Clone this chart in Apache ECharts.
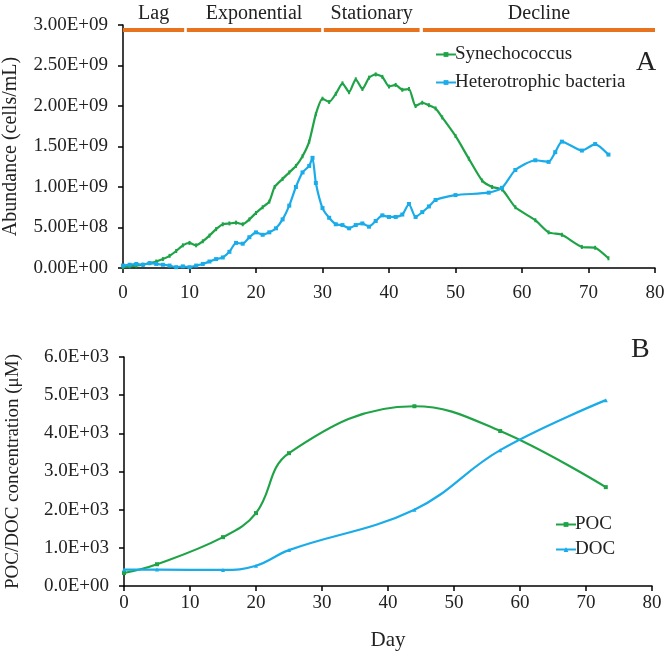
<!DOCTYPE html>
<html><head><meta charset="utf-8">
<script src="https://cdn.jsdelivr.net/npm/echarts@6/dist/echarts.min.js"></script>
<style>html,body{margin:0;padding:0;background:#fff}#c{width:666px;height:653px}</style>
</head><body><div id="c"></div>
<script>
// ---- data ----
const synDay = [0,1,2,3,4,5,6,7,8,9,10,11,12,13,14,15,16,17,18,19,20,21,22,22.8,24,25,26,27,28,29,30,31,32,33,34,35,36,37,38,39,40,41,42,43,44,45,46,47,48,50,52,54,55.5,57,59,62,64,66,69,71,73];
const synVal = [0.01,0.02,0.03,0.04,0.06,0.08,0.11,0.15,0.21,0.28,0.31,0.28,0.33,0.40,0.48,0.54,0.55,0.56,0.54,0.60,0.68,0.75,0.82,1.00,1.10,1.18,1.26,1.38,1.56,1.90,2.09,2.05,2.15,2.28,2.17,2.33,2.21,2.35,2.39,2.36,2.24,2.26,2.20,2.21,2.00,2.04,2.01,1.97,1.86,1.63,1.35,1.08,1.00,0.97,0.75,0.59,0.44,0.41,0.26,0.25,0.12];
const hetDay = [0,1,2,3,4,5,6,7,8,9,10,11,12,13,14,15,16,17,18,19,20,21,22,23,24,25,26,27,28,28.5,29,30,31,32,33,34,35,36,37,38,39,40,41,42,43,44,45,46,47,50,55,57,59,62,64,65,66,69,71,73];
const hetVal = [0.03,0.04,0.05,0.04,0.06,0.05,0.04,0.03,0.01,0.02,0.01,0.03,0.05,0.08,0.11,0.13,0.20,0.31,0.30,0.38,0.44,0.41,0.44,0.49,0.60,0.77,1.00,1.18,1.26,1.36,1.05,0.74,0.62,0.54,0.53,0.49,0.53,0.55,0.51,0.58,0.65,0.63,0.63,0.66,0.79,0.63,0.69,0.76,0.84,0.90,0.93,0.99,1.21,1.33,1.31,1.43,1.56,1.45,1.53,1.40];
const abundanceScale = 1e9;

const phaseNames = ['Lag','Exponential','Stationary','Decline'];
const phaseStart = [0, 9.6, 30.2, 45.1];
const phaseEnd   = [9.2, 29.8, 44.6, 80];
const phaseLevel = 2.94e9;

const pocDay = [0,5,15,20,25,44,57,73];
const pocVal = [340,570,1280,1910,3480,4710,4060,2590];
const docDay = [0,5,15,20,25,44,57,73];
const docVal = [430,430,420,530,940,2000,3560,4870];

const xTicks = {min:0, max:80, interval:10};
const yTopTicks = {min:0, max:3e9, interval:5e8};
const yBotTicks = {min:0, max:6000, interval:1000};

// ---- helpers ----
function sci(v, d){
  if (v === 0) return (0).toFixed(d) + 'E+00';
  const s = v.toExponential(d).split('e');
  const e = parseInt(s[1],10);
  return s[0].toUpperCase() + 'E' + (e<0?'-':'+') + String(Math.abs(e)).padStart(2,'0');
}
const zip = (a,b,k=1)=>a.map((x,i)=>[x,b[i]*k]);

const GREEN = '#1fa347', BLUE = '#1aabe9', ORANGE = '#e8731f';
const FONT = 'Liberation Serif';
const txt = {fontFamily: FONT, fontSize: 19, color: '#222'};

const axisLine = {show:true, lineStyle:{color:'#000', width:1.5}};
const axisTick = {show:true, inside:false, length:5, lineStyle:{color:'#000', width:1.5}};

const chart = echarts.init(document.getElementById('c'), null, {renderer:'canvas'});
chart.setOption({
  animation:false,
  backgroundColor:'#fff',
  grid:[
    {left:123, right:11, top:25, height:243, containLabel:false, outerBoundsMode:'none'},
    {left:124, right:14, top:357, height:229, containLabel:false, outerBoundsMode:'none'}
  ],
  legend:[
    {show:true, data:['Synechococcus','Heterotrophic bacteria'], orient:'vertical', left:430, top:40,
     itemWidth:20, itemHeight:6, itemGap:9, textStyle:{...txt, padding:[0,0,0,-6]}},
    {show:true, data:['POC','DOC'], orient:'vertical', left:550, top:510,
     itemWidth:20, itemHeight:6, itemGap:6, textStyle:{...txt, padding:[0,0,0,-6]}}
  ],
  title:[
    {text:'A', left:631, top:44, textStyle:{fontFamily:FONT, fontSize:28, fontWeight:'normal', color:'#222'}},
    {text:'B', left:626, top:331, textStyle:{fontFamily:FONT, fontSize:28, fontWeight:'normal', color:'#222'}}
  ],
  xAxis:[
    {gridIndex:0, type:'value', ...xTicks, axisLine, axisTick, splitLine:{show:false},
     axisLabel:{...txt, margin:16}},
    {gridIndex:1, type:'value', ...xTicks, axisLine, axisTick, splitLine:{show:false},
     axisLabel:{...txt, margin:8}, name:'Day', nameLocation:'middle', nameGap:44,
     nameTextStyle:{fontFamily:FONT, fontSize:21, color:'#222'}}
  ],
  yAxis:[
    {gridIndex:0, type:'value', ...yTopTicks, axisLine, axisTick, splitLine:{show:false},
     axisLabel:{...txt, margin:15, formatter:v=>sci(v,2)},
     name:'Abundance (cells/mL)', nameLocation:'middle', nameGap:102,
     nameTextStyle:{fontFamily:FONT, fontSize:20, color:'#222'}},
    {gridIndex:1, type:'value', ...yBotTicks, axisLine, axisTick, splitLine:{show:false},
     axisLabel:{...txt, margin:15, formatter:v=>sci(v,1)},
     name:'POC/DOC concentration (\u03bcM)', nameLocation:'middle', nameGap:101,
     nameTextStyle:{fontFamily:FONT, fontSize:19, color:'#222'}}
  ],
  series:[
    {name:'phases', type:'line', xAxisIndex:0, yAxisIndex:0, data:[], silent:true,
     markLine:{silent:true, symbol:['none','none'], animation:false,
       lineStyle:{color:ORANGE, width:4, type:'solid'},
       label:{show:true, position:'insideMiddleTop', distance:6, formatter:p=>p.name,
              fontFamily:FONT, fontSize:20, color:'#222'},
       data: phaseNames.map((n,i)=>[{name:n, coord:[phaseStart[i], phaseLevel]},{coord:[phaseEnd[i], phaseLevel]}])}},
    {name:'Synechococcus', type:'line', xAxisIndex:0, yAxisIndex:0, data:zip(synDay,synVal,abundanceScale),
     smooth:0.2, symbol:'rect', symbolSize:[2,4], showSymbol:true, color:GREEN,
     lineStyle:{color:GREEN, width:2.2}, itemStyle:{color:GREEN}},
    {name:'Heterotrophic bacteria', type:'line', xAxisIndex:0, yAxisIndex:0, data:zip(hetDay,hetVal,abundanceScale),
     smooth:0.2, symbol:'rect', symbolSize:4, showSymbol:true, color:BLUE,
     lineStyle:{color:BLUE, width:2.2}, itemStyle:{color:BLUE}},
    {name:'POC', type:'line', xAxisIndex:1, yAxisIndex:1, data:zip(pocDay,pocVal),
     smooth:0.4, symbol:'rect', symbolSize:4, color:GREEN,
     lineStyle:{color:GREEN, width:2.2}, itemStyle:{color:GREEN}},
    {name:'DOC', type:'line', xAxisIndex:1, yAxisIndex:1, data:zip(docDay,docVal),
     smooth:0.4, symbol:'triangle', symbolSize:4, color:BLUE,
     lineStyle:{color:BLUE, width:2.2}, itemStyle:{color:BLUE}}
  ]
});
</script></body></html>
